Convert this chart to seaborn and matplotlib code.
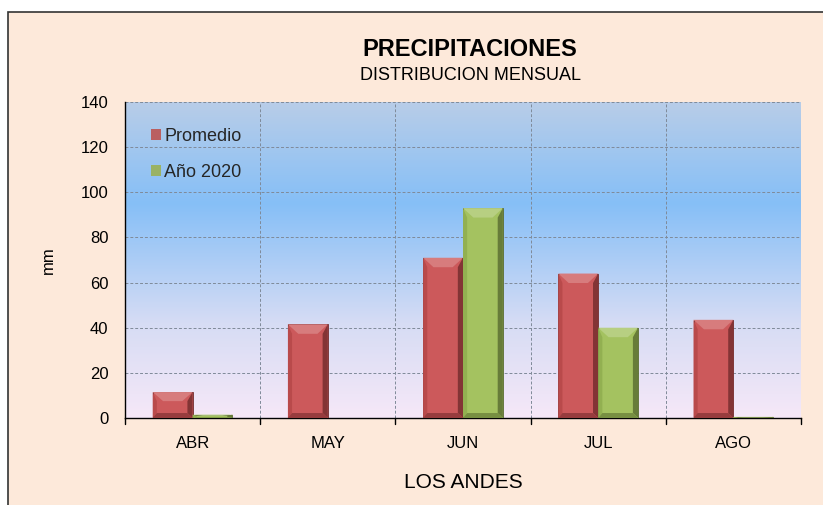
import numpy as np
import pandas as pd
import seaborn as sns
import matplotlib.pyplot as plt
from matplotlib.patches import Rectangle, Polygon
from matplotlib import colors

months = ['ABR', 'MAY', 'JUN', 'JUL', 'AGO']
promedio = [11.5, 41.5, 71.0, 64.0, 43.5]
anio_2020 = [1.5, 0.0, 93.0, 40.0, 0.5]
series_names = ['Promedio', 'Año 2020']
bar_colors = ['#c95052', '#9fbf58']

df = pd.DataFrame({
    'mes': months * 2,
    'mm': promedio + anio_2020,
    'serie': [series_names[0]] * len(months) + [series_names[1]] * len(months),
})

sns.set_theme(style='white')
plt.rcParams['font.family'] = ['Liberation Sans', 'DejaVu Sans']

fig = plt.figure(figsize=(8.23, 5.05), dpi=100)
fig.patch.set_facecolor('white')
# outer chart frame
frame = Rectangle((8 / 823, -0.01), 1.0, 1 - 12 / 505 + 0.01, transform=fig.transFigure,
                  facecolor='#fde9da', edgecolor='#333333', linewidth=1.2, zorder=-10)
fig.patches.append(frame)

ax = fig.add_axes([125 / 823, 1 - 418 / 505, 676 / 823, 316 / 505])
ax.set_zorder(1)
ax.set_facecolor('none')

# gradient background of the plot area
grad = colors.LinearSegmentedColormap.from_list(
    'bg', [(0, '#f6e8f8'), (0.3, '#d6dcf4'), (0.68, '#86bff7'), (1, '#b8cde8')])
ax.imshow(np.linspace(0, 1, 256).reshape(-1, 1), cmap=grad, aspect='auto',
          extent=[-0.5, 4.5, 0, 140], origin='lower', zorder=0)

sns.barplot(data=df, x='mes', y='mm', hue='serie', palette=bar_colors, width=0.59,
            gap=0, ax=ax, zorder=3, edgecolor='none', linewidth=0, legend=True)


def mix(c, other, t):
    return tuple(np.clip(np.array(c) * (1 - t) + np.array(other) * t, 0, 1))


# bevel effect on each bar
for patch, col in zip(ax.patches, [bar_colors[0]] * 5 + [bar_colors[1]] * 5):
    x0, y0 = patch.get_x(), patch.get_y()
    w, h = patch.get_width(), patch.get_height()
    if h <= 0:
        continue
    base = colors.to_rgb(col)
    x1, y1 = x0 + w, y0 + h
    bw = w * 0.26
    bh = min(4.2, h * 0.35)
    bb = min(2.2, h * 0.2)
    faces = [
        ([(x0, y1), (x1, y1), (x1 - bw, y1 - bh), (x0 + bw, y1 - bh)], mix(base, (1, 1, 1), 0.25)),
        ([(x1, y0), (x1, y1), (x1 - bw * 0.5, y1 - bh), (x1 - bw * 0.5, y0 + bb)], mix(base, (0, 0, 0), 0.35)),
        ([(x0, y0), (x0, y1), (x0 + bw * 0.4, y1 - bh), (x0 + bw * 0.4, y0 + bb)], mix(base, (0, 0, 0), 0.08)),
        ([(x0, y0), (x1, y0), (x1 - bw * 0.5, y0 + bb), (x0 + bw * 0.4, y0 + bb)], mix(base, (0, 0, 0), 0.25)),
    ]
    for pts, fc in faces:
        ax.add_patch(Polygon(pts, closed=True, facecolor=fc, edgecolor='none', zorder=4))
    patch.set_facecolor(mix(base, (1, 1, 1), 0.05))
    patch.set_edgecolor(mix(base, (0, 0, 0), 0.45))
    patch.set_linewidth(0.6)

ax.set_xlim(-0.5, 4.5)
ax.set_ylim(0, 140)
ax.set_yticks(np.arange(0, 141, 20))
ax.tick_params(axis='x', labelsize=12, colors='black', length=0, pad=13)
ax.tick_params(axis='y', labelsize=12, labelcolor='black', direction='out', length=6,
               width=1, color='#444444', pad=6)

# grid lines
for yv in np.arange(20, 141, 20):
    ax.axhline(yv, color='#7f8a99', linestyle=(0, (3, 2)), linewidth=0.7, zorder=1)
for xv in np.arange(0.5, 4.5, 1):
    ax.axvline(xv, color='#7f8a99', linestyle=(0, (3, 2)), linewidth=0.7, zorder=1)
for xv in np.arange(-0.5, 4.6, 1):
    ax.plot([xv, xv], [0, -0.018], transform=ax.get_xaxis_transform(), color='black',
            linewidth=1, clip_on=False, zorder=5)

for side in ['top', 'right']:
    ax.spines[side].set_visible(False)
for side in ['left', 'bottom']:
    ax.spines[side].set_color('black')
    ax.spines[side].set_linewidth(1)

ax.set_xlabel('LOS ANDES', fontsize=15, labelpad=16, color='black')
ax.set_ylabel('mm', fontsize=12, labelpad=18, color='black')

leg = ax.legend(loc='upper left', bbox_to_anchor=(0.015, 0.97), frameon=False, fontsize=13,
                handlelength=0.55, handleheight=0.6, handletextpad=0.15, labelspacing=1.05)

fig.text(470 / 823, 1 - 50 / 505, 'PRECIPITACIONES', ha='center', va='center',
         fontsize=17, fontweight='bold', color='black')
fig.text(470 / 823, 1 - 76 / 505, 'DISTRIBUCION MENSUAL', ha='center', va='center',
         fontsize=13, color='black')

fig.savefig('out.png', dpi=100, facecolor=fig.get_facecolor())
